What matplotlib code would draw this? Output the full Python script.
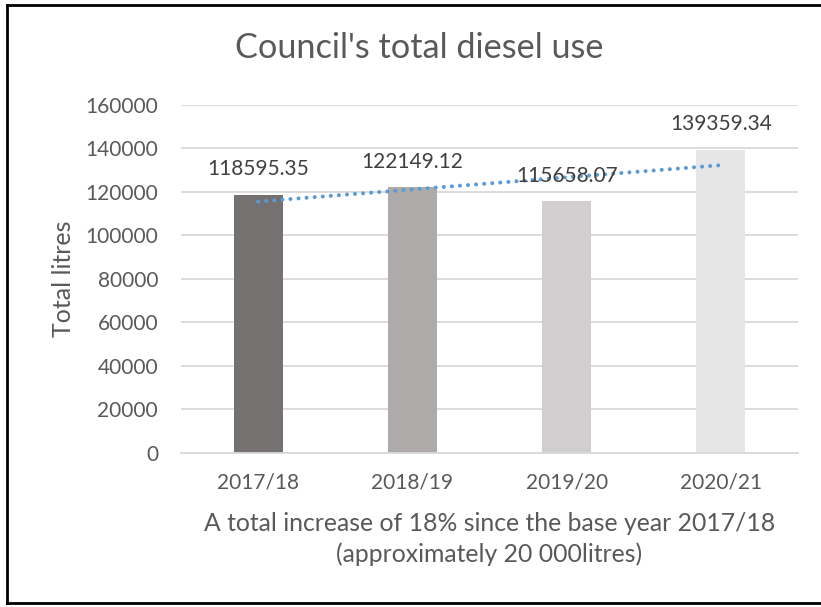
import numpy as np
import matplotlib
matplotlib.use("Agg")
import matplotlib.pyplot as plt
from matplotlib.lines import Line2D

plt.rcParams['font.family'] = ['Lato', 'DejaVu Sans']

years = ["2017/18", "2018/19", "2019/20", "2020/21"]
litres = [118595.35, 122149.12, 115658.07, 139359.34]
bar_colors = ["#767171", "#AEAAAA", "#D0CECE", "#E7E6E6"]
y_ticks = [0, 20000, 40000, 60000, 80000, 100000, 120000, 140000, 160000]

TEXT = "#595959"
GRID = "#D9D9D9"

fig = plt.figure(figsize=(8.21, 6.07), dpi=100)
ax = fig.add_axes([0.2205, 0.2542, 0.7515, 0.5728])

x = np.arange(len(years))
ax.bar(x, litres, width=0.318, color=bar_colors, zorder=2)

# linear trendline across the four years
slope, intercept = np.polyfit(x, litres, 1)
ax.plot([x[0], x[-1]], [intercept + slope * x[0], intercept + slope * x[-1]],
        color="#5B9BD5", lw=2.9, linestyle=(0, (0.01, 2)),
        dash_capstyle="round", zorder=3)

for xi, v in zip(x, litres):
    ax.annotate(f"{v:.2f}", (xi, v), xytext=(0, 18.4), textcoords="offset points",
                ha="center", va="center", fontsize=15, color="#404040", zorder=4)

ax.set_xlim(-0.5, 3.5)
ax.set_ylim(0, 160000)
ax.set_yticks(y_ticks)
ax.set_yticklabels([str(t) for t in y_ticks])
ax.set_xticks(x)
ax.set_xticklabels(years)
ax.yaxis.grid(True, color=GRID, lw=1.3, zorder=0)
ax.set_axisbelow(True)
for s in ["top", "right", "left"]:
    ax.spines[s].set_visible(False)
ax.spines["bottom"].set_color(GRID)
ax.spines["bottom"].set_linewidth(1.3)
ax.tick_params(axis="both", length=0, labelsize=15, labelcolor=TEXT)
ax.tick_params(axis="y", pad=16.5)
ax.tick_params(axis="x", pad=14)

ax.set_ylabel("Total litres", fontsize=18, color=TEXT, va="center")
ax.yaxis.set_label_coords(-0.191, 0.5)
ax.set_xlabel("A total increase of 18% since the base year 2017/18\n(approximately 20 000litres)",
              fontsize=17.8, color=TEXT, va="center", linespacing=1.4)
ax.xaxis.set_label_coords(0.5, -0.248)

fig.text(419 / 821, 1 - 48 / 607, "Council's total diesel use", ha="center", va="center",
         fontsize=24.7, color=TEXT)

# chart frame (right edge falls outside the image)
for xs, ys in [([7 / 821, 7 / 821], [1 - 603 / 607, 1 - 5 / 607]),
               ([7 / 821, 1.0], [1 - 5 / 607, 1 - 5 / 607]),
               ([7 / 821, 1.0], [1 - 603 / 607, 1 - 603 / 607])]:
    fig.add_artist(Line2D(xs, ys, color="black", lw=2, transform=fig.transFigure))

fig.savefig("out.png", dpi=100)
